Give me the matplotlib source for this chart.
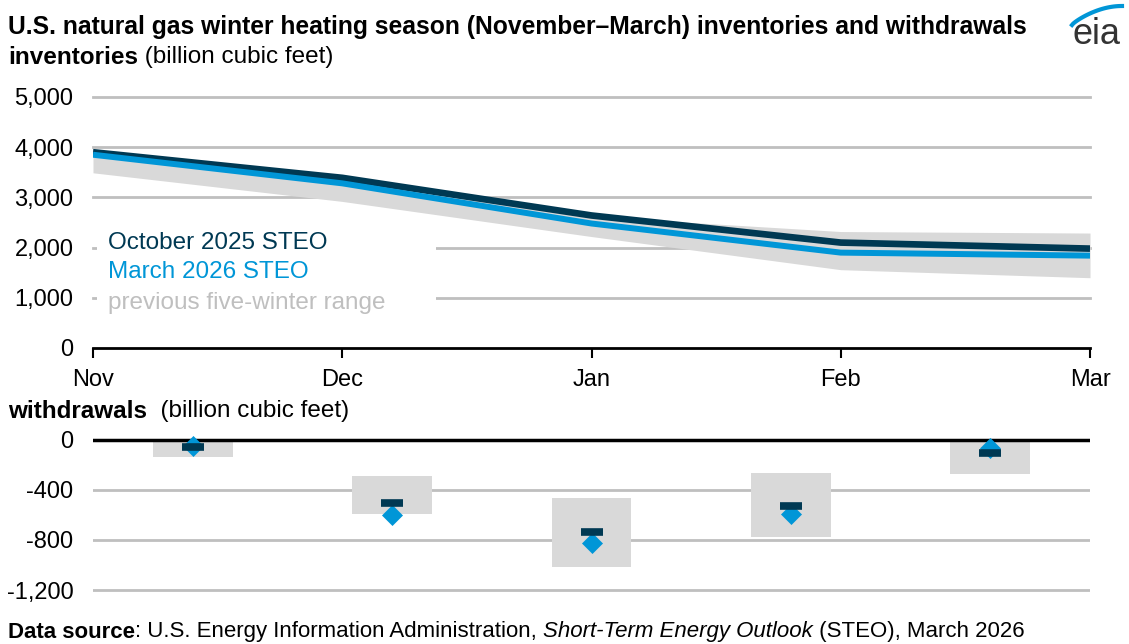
import numpy as np
import matplotlib
matplotlib.use("Agg")
import matplotlib.pyplot as plt
from matplotlib.lines import Line2D
from matplotlib.patches import Rectangle

plt.rcParams['font.family'] = ['Liberation Sans', 'DejaVu Sans']

months = ['Nov', 'Dec', 'Jan', 'Feb', 'Mar']

# inventories (billion cubic feet)
inv_oct25 = [3900, 3390, 2640, 2100, 1980]
inv_mar26 = [3850, 3280, 2480, 1900, 1840]
inv_range_lo = [3490, 2920, 2220, 1560, 1400]
inv_range_hi = [3940, 3420, 2620, 2320, 2290]

# withdrawals (billion cubic feet)
wd_oct25 = [-57, -507, -733, -528, -107]
wd_mar26 = [-45, -600, -826, -590, -62]
wd_range_lo = [-135, -595, -1013, -776, -275]
wd_range_hi = [10, -285, -461, -267, 0]

inv_ticks = [0, 1000, 2000, 3000, 4000, 5000]
wd_ticks = [0, -400, -800, -1200]

DARK = '#003953'
BLUE = '#0096D7'
BAND = '#D9D9D9'
GRID = '#BFBFBF'

W, H = 1129, 644
fig = plt.figure(figsize=(W / 100, H / 100), dpi=100)

def fx(px):
    return px / W

def fy(py):
    return 1 - py / H

# ---- top panel: inventories
ax = fig.add_axes([fx(93), fy(348), fx(1090) - fx(93), fy(97) - fy(348)])
x = np.arange(len(months))
ax.fill_between(x, inv_range_lo, inv_range_hi, color=BAND, lw=0, zorder=2)
ax.plot(x, inv_oct25, color=DARK, lw=4.8, zorder=3, solid_capstyle='butt')
ax.plot(x, inv_mar26, color=BLUE, lw=4.3, zorder=4, solid_capstyle='butt')
ax.set_xlim(0, 4)
ax.set_ylim(0, 5000)
ax.set_yticks(inv_ticks)
ax.set_yticklabels([f'{v:,}' for v in inv_ticks])
for v in inv_ticks[1:]:
    ax.axhline(v, color=GRID, lw=2, zorder=1, clip_on=False)
ax.set_xticks(x)
ax.set_xticklabels(months)
for s in ['top', 'right', 'left']:
    ax.spines[s].set_visible(False)
ax.spines['bottom'].set_linewidth(2)
ax.spines['bottom'].set_zorder(5)
ax.tick_params(axis='x', direction='out', length=7, width=1.5, pad=8, labelsize=17)
ax.tick_params(axis='y', length=0, pad=14, labelsize=17)

# legend labels with white backing
ax.add_patch(Rectangle((0.004, 0.14), 0.34, 0.33, transform=ax.transAxes,
                       facecolor='white', edgecolor='none', zorder=6))
ax.text(0.015, 0.418, 'October 2025 STEO', transform=ax.transAxes, color=DARK,
        fontsize=17.5, va='center', zorder=7)
ax.text(0.015, 0.303, 'March 2026 STEO', transform=ax.transAxes, color=BLUE,
        fontsize=17.5, va='center', zorder=7)
ax.text(0.015, 0.179, 'previous five-winter range', transform=ax.transAxes,
        color=GRID, fontsize=17.5, va='center', zorder=7)

# ---- bottom panel: withdrawals
ax2 = fig.add_axes([fx(93), fy(595), fx(1090) - fx(93), fy(425) - fy(595)])
lo = np.array(wd_range_lo)
hi = np.array(wd_range_hi)
ax2.bar(x, hi - lo, bottom=lo, width=0.4, color=BAND, lw=0, zorder=2)
ax2.plot(x, wd_mar26, ls='none', marker='D', markersize=10.5, color=BLUE,
         mec=BLUE, mew=0.5, zorder=4, clip_on=False)
ax2.plot(x, wd_oct25, ls='none', marker='_', markersize=16, mew=5.5, color=DARK,
         zorder=5)
ax2.set_xlim(-0.5, 4.5)
ax2.set_ylim(-1240, 120)
ax2.set_yticks(wd_ticks)
ax2.set_yticklabels([f'{v:,}' for v in wd_ticks])
for v in wd_ticks[1:]:
    ax2.axhline(v, color=GRID, lw=2, zorder=1)
ax2.axhline(0, color='black', lw=2.5, zorder=3)
ax2.set_xticks([])
for s in ax2.spines.values():
    s.set_visible(False)
ax2.tick_params(axis='y', length=0, pad=14, labelsize=17)

# ---- text
renderer = fig.canvas.get_renderer()

def chain(px, py, pieces, size):
    xpos = fx(px)
    for txt, kw in pieces:
        t = fig.text(xpos, fy(py), txt, fontsize=size, va='center', **kw)
        xpos = fig.transFigure.inverted().transform(
            (t.get_window_extent(renderer=renderer).x1, 0))[0]

fig.text(fx(8), fy(27), 'U.S. natural gas winter heating season (November\u2013March) '
         'inventories and withdrawals', fontsize=17.75, fontweight='bold', va='center')
chain(8, 57, [('inventories', dict(fontweight='bold')),
              (' (billion cubic feet)', {})], 17.5)
chain(8, 411, [('withdrawals', dict(fontweight='bold')),
               ('  (billion cubic feet)', {})], 17.5)
chain(8, 632, [('Data source', dict(fontweight='bold')),
               (': U.S. Energy Information Administration, ', {}),
               ('Short-Term Energy Outlook', dict(style='italic')),
               (' (STEO), March 2026', {})], 16)

# eia logo
fig.text(fx(1097), fy(44), 'eia', fontsize=26, color='#333333', ha='center',
         va='baseline')
t = np.linspace(0, 1, 50)
arc_x = 1072 + 50 * t
arc_y = 25 - 19 * np.sin(t * np.pi / 2) ** 0.8
fig.add_artist(Line2D(fx(arc_x), fy(arc_y), color=BLUE, lw=3,
                      transform=fig.transFigure))

fig.savefig('out.png', dpi=100)
